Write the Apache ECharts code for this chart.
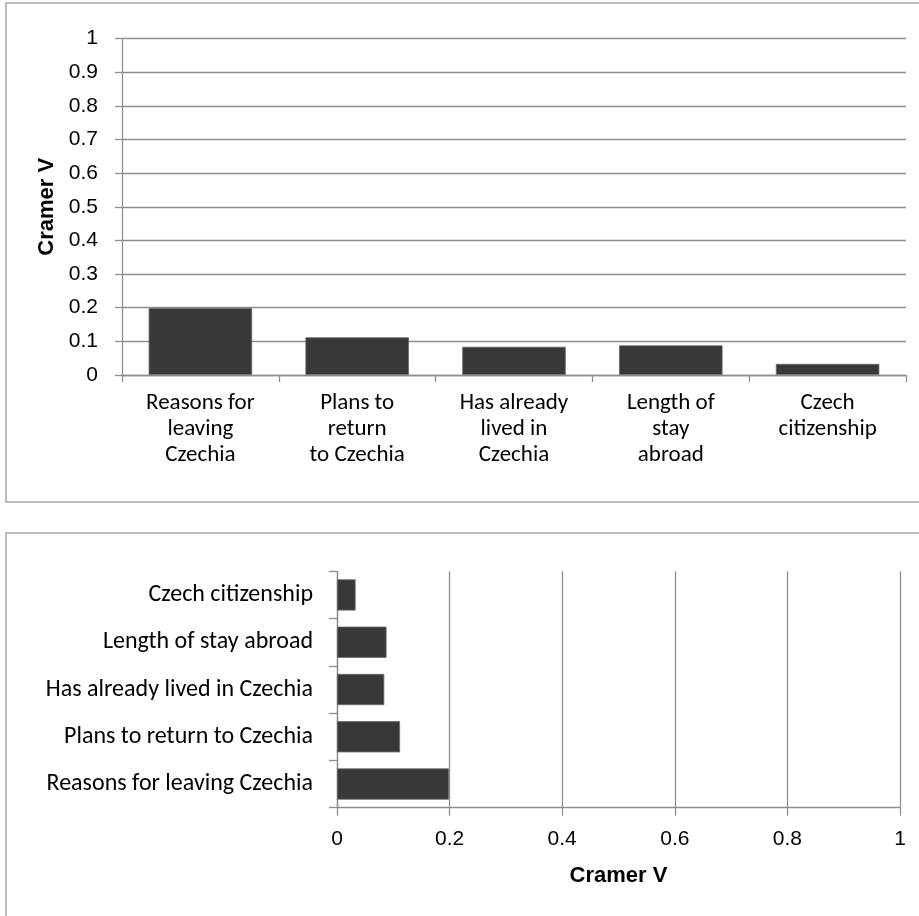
<!DOCTYPE html>
<html>
<head>
<meta charset="utf-8">
<script src="https://cdn.jsdelivr.net/npm/echarts@6/dist/echarts.min.js"></script>
<style>
html,body{margin:0;padding:0;background:#fff;}
#chart{width:919px;height:916px;}
</style>
</head>
<body>
<div id="chart"></div>
<script>
// Data
const categories = ['Reasons for leaving Czechia', 'Plans to return to Czechia', 'Has already lived in Czechia', 'Length of stay abroad', 'Czech citizenship'];
const wrappedLabels = ['Reasons for\nleaving\nCzechia', 'Plans to\nreturn\nto Czechia', 'Has already\nlived in\nCzechia', 'Length of\nstay\nabroad', 'Czech\ncitizenship'];
const cramerV = [0.199, 0.112, 0.084, 0.088, 0.033];
const axisName = 'Cramer V';

const catFont = 'Carlito, Lato, sans-serif';
const numFont = '"Liberation Sans", Arial, sans-serif';
const gridColor = '#8f8f8f';
const barColor = '#383838';

const chart = echarts.init(document.getElementById('chart'), null, {renderer: 'canvas'});
chart.setOption({
  animation: false,
  backgroundColor: '#fff',
  graphic: [
    {type: 'rect', shape: {x: 6, y: 3, width: 930, height: 499}, style: {fill: 'none', stroke: '#a6a6a6', lineWidth: 1.5}, silent: true},
    {type: 'rect', shape: {x: 6, y: 533, width: 930, height: 420}, style: {fill: 'none', stroke: '#a6a6a6', lineWidth: 1.5}, silent: true}
  ],
  grid: [
    {left: 122, right: 13, top: 38.5, bottom: 541, containLabel: false},
    {left: 337, right: 19, top: 571.3, bottom: 108.3, containLabel: false}
  ],
  xAxis: [
    {
      type: 'category', gridIndex: 0, data: categories,
      axisLine: {show: true, lineStyle: {color: gridColor, width: 1.3}},
      axisTick: {show: true, alignWithLabel: false, length: 7, lineStyle: {color: gridColor, width: 1.3}},
      axisLabel: {
        interval: 0, margin: 15, color: '#000', fontFamily: catFont, fontSize: 23, lineHeight: 26, align: 'center',
        formatter: function (v, i) { return wrappedLabels[i]; }
      },
      splitLine: {show: false}
    },
    {
      type: 'value', gridIndex: 1, min: 0, max: 1, interval: 0.2,
      name: axisName, nameLocation: 'middle', nameGap: 57,
      nameTextStyle: {color: '#000', fontFamily: numFont, fontSize: 22, fontWeight: 'bold'},
      axisLine: {show: true, lineStyle: {color: gridColor, width: 1.3}},
      axisTick: {show: true, length: 8, lineStyle: {color: gridColor, width: 1.3}},
      axisLabel: {margin: 21, color: '#000', fontFamily: numFont, fontSize: 21},
      splitLine: {show: true, lineStyle: {color: gridColor, width: 1.3}}
    }
  ],
  yAxis: [
    {
      type: 'value', gridIndex: 0, min: 0, max: 1, interval: 0.1,
      name: axisName, nameLocation: 'middle', nameGap: 63, nameRotate: 90,
      nameTextStyle: {color: '#000', fontFamily: numFont, fontSize: 22, fontWeight: 'bold'},
      axisLine: {show: true, lineStyle: {color: gridColor, width: 1.3}},
      axisTick: {show: true, length: 7, lineStyle: {color: gridColor, width: 1.3}},
      axisLabel: {margin: 24, color: '#000', fontFamily: numFont, fontSize: 21},
      splitLine: {show: true, lineStyle: {color: gridColor, width: 1.3}}
    },
    {
      type: 'category', gridIndex: 1, data: categories,
      axisLine: {show: true, lineStyle: {color: gridColor, width: 1.3}},
      axisTick: {show: true, alignWithLabel: false, length: 8, lineStyle: {color: gridColor, width: 1.3}},
      axisLabel: {interval: 0, margin: 24, color: '#000', fontFamily: catFont, fontSize: 24},
      splitLine: {show: false}
    }
  ],
  series: [
    {
      type: 'bar', xAxisIndex: 0, yAxisIndex: 0, data: cramerV, barWidth: '66%',
      itemStyle: {color: barColor, borderColor: '#6a6a6a', borderWidth: 0.8}
    },
    {
      type: 'bar', xAxisIndex: 1, yAxisIndex: 1, data: cramerV, barWidth: '66%',
      itemStyle: {color: barColor, borderColor: '#6a6a6a', borderWidth: 0.8}
    }
  ]
});
</script>
</body>
</html>
